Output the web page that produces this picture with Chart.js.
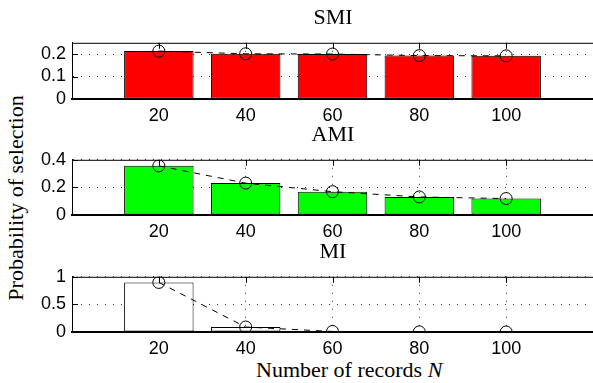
<!DOCTYPE html>
<html>
<head>
<meta charset="utf-8">
<script src="https://cdn.jsdelivr.net/npm/chart.js@4"></script>
<style>
    html, body { margin: 0; padding: 0; background: #fff; overflow: hidden; }
    body { width: 593px; height: 383px; position: relative; }
    canvas { position: absolute; left: 0; }
    .txt { position: absolute; font-family: 'Liberation Serif', serif; font-size: 22px; color: #000; white-space: nowrap; }
</style>
</head>
<body>
<div class="txt" id="ylabel">Probability of selection</div>
<div class="txt" id="xlabel">Number of records <i>N</i></div>

<script>
// ====================================
// DATOS
// ====================================
const recordCounts = [20, 40, 60, 80, 100];
const xTicks = [0, 20, 40, 60, 80, 100, 120];

const smiProb = [0.213, 0.201, 0.200, 0.193, 0.192];
const amiProb = [0.356, 0.231, 0.169, 0.131, 0.119];
const miProb = [0.898, 0.090, 0.010, 0.002, 0.000];

const smiTicks = [0, 0.1, 0.2];
const amiTicks = [0, 0.2, 0.4];
const miTicks = [0, 0.5, 1];

const panelTitles = ['SMI', 'AMI', 'MI'];

// ====================================
// PANELES
// ====================================
const panels = [
    { title: panelTitles[0], values: smiProb, ticks: smiTicks, max: 0.25, color: '#ff0000', top: 34, bottom: 99 },
    { title: panelTitles[1], values: amiProb, ticks: amiTicks, max: 0.4, color: '#00ff00', top: 151, bottom: 215 },
    { title: panelTitles[2], values: miProb, ticks: miTicks, max: 1, color: '#ffffff', top: 268, bottom: 332 }
];

const PAD_TOP = 8;
const XAXIS_H = 30;
const TICK_FONT = { family: "'Liberation Sans', Arial, sans-serif", size: 18 };

// marco superior y marcas hacia dentro (estilo matlab)
const boxPlugin = {
    id: 'box',
    afterDraw(chart) {
        const { ctx, chartArea: a, scales } = chart;
        ctx.save();
        ctx.strokeStyle = '#000';
        ctx.lineWidth = 1;
        ctx.beginPath();
        ctx.moveTo(a.left, a.top + 0.5);
        ctx.lineTo(a.right, a.top + 0.5);
        scales.x.ticks.forEach(t => {
            const px = Math.round(scales.x.getPixelForValue(t.value)) + 0.5;
            ctx.moveTo(px, a.top);
            ctx.lineTo(px, a.top + 6);
        });
        scales.y.ticks.forEach(t => {
            const py = Math.round(scales.y.getPixelForValue(t.value)) + 0.5;
            ctx.moveTo(a.left, py);
            ctx.lineTo(a.left + 6, py);
        });
        ctx.stroke();
        ctx.restore();
    }
};

function makePanel(p) {
    const canvas = document.createElement('canvas');
    const h = (p.bottom - p.top) + PAD_TOP + XAXIS_H;
    canvas.width = 600;
    canvas.height = h;
    canvas.style.width = '600px';
    canvas.style.height = h + 'px';
    canvas.style.top = (p.top - PAD_TOP) + 'px';
    document.body.appendChild(canvas);

    const title = document.createElement('div');
    title.className = 'txt';
    title.textContent = p.title;
    document.body.appendChild(title);
    title.style.left = (333 - title.offsetWidth / 2) + 'px';
    title.style.top = (p.top - 17 - title.offsetHeight / 2) + 'px';

    const points = recordCounts.map((x, i) => ({ x: x, y: p.values[i] }));

    new Chart(canvas, {
        type: 'bar',
        data: {
            datasets: [
                {
                    type: 'line',
                    data: points,
                    borderColor: '#000',
                    borderWidth: 1,
                    borderDash: [6, 6],
                    pointStyle: 'circle',
                    pointRadius: 6,
                    pointBorderWidth: 1,
                    pointBorderColor: '#000',
                    pointBackgroundColor: 'rgba(0,0,0,0)',
                    fill: false,
                    order: 0
                },
                {
                    type: 'bar',
                    data: points,
                    backgroundColor: p.color,
                    borderColor: '#000',
                    borderWidth: 1,
                    borderSkipped: false,
                    barPercentage: 0.8,
                    categoryPercentage: 1,
                    order: 1
                }
            ]
        },
        options: {
            responsive: false,
            animation: false,
            layout: { padding: { top: PAD_TOP, left: 0, right: 6, bottom: 0 } },
            plugins: {
                legend: { display: false },
                tooltip: { enabled: false }
            },
            scales: {
                x: {
                    type: 'linear',
                    min: 0,
                    max: 120,
                    offset: false,
                    afterBuildTicks: s => { s.ticks = xTicks.map(v => ({ value: v })); },
                    afterFit: s => { s.height = XAXIS_H; },
                    ticks: {
                        font: TICK_FONT,
                        color: '#000',
                        padding: 6,
                        maxRotation: 0,
                        callback: v => (v === 0 || v === 120) ? '' : String(v)
                    },
                    grid: { color: '#333', lineWidth: 1, drawTicks: false, offset: false },
                    border: { display: true, color: '#000', width: 2, dash: [1, 7] }
                },
                y: {
                    min: 0,
                    max: p.max,
                    afterBuildTicks: s => { s.ticks = p.ticks.map(v => ({ value: v })); },
                    afterFit: s => { s.width = 72; },
                    ticks: {
                        font: TICK_FONT,
                        color: '#000',
                        padding: 6,
                        callback: v => String(+v.toFixed(2))
                    },
                    grid: { color: '#333', lineWidth: 1, drawTicks: false },
                    border: { display: true, color: '#000', width: 1, dash: [1, 7] }
                }
            }
        },
        plugins: [boxPlugin]
    });
}

panels.forEach(makePanel);

// etiquetas de ejes
const yl = document.getElementById('ylabel');
yl.style.left = (15 - yl.offsetWidth / 2) + 'px';
yl.style.top = (198 - yl.offsetHeight / 2) + 'px';
yl.style.transform = 'rotate(-90deg)';

const xl = document.getElementById('xlabel');
xl.style.left = (349 - xl.offsetWidth / 2) + 'px';
xl.style.top = (370 - xl.offsetHeight / 2) + 'px';
</script>
</body>
</html>
